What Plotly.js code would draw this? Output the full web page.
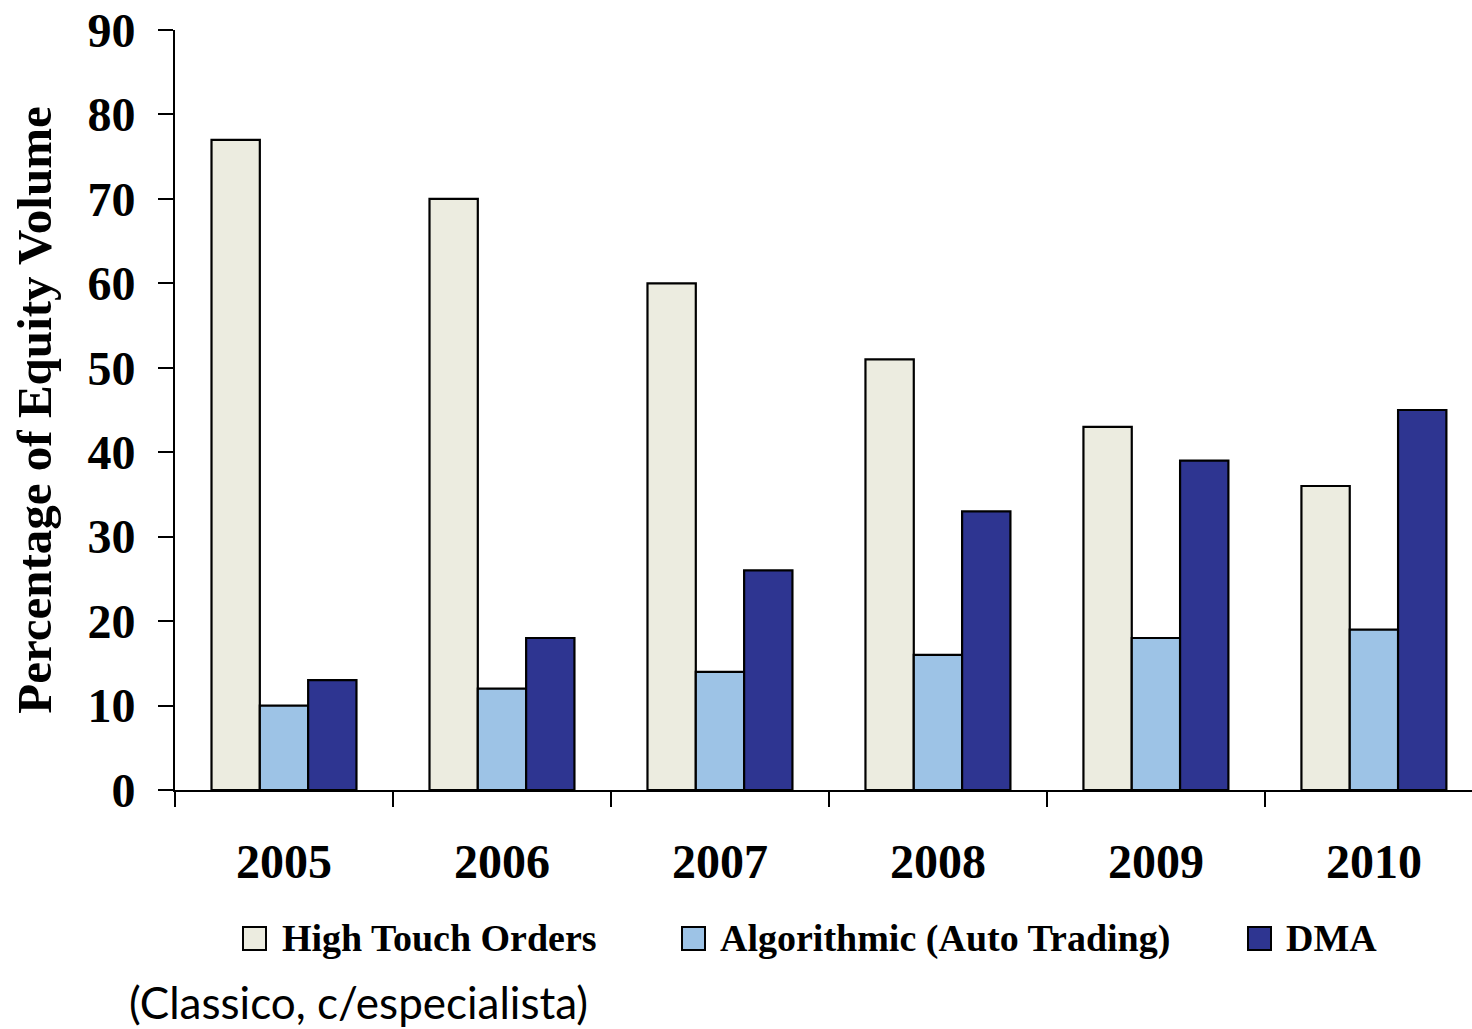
<!DOCTYPE html>
<html>
<head>
<meta charset="utf-8">
<script src="https://cdn.plot.ly/plotly-3.0.1.min.js"></script>
<style>html,body{margin:0;padding:0;background:#fff;}#chart{width:1472px;height:1029px;}</style>
</head>
<body>
<div id="chart"></div>
<script>
// ---- data ----
const years = ["2005", "2006", "2007", "2008", "2009", "2010"];
const seriesNames = ["High Touch Orders", "Algorithmic (Auto Trading)", "DMA"];
const highTouch = [77, 70, 60, 51, 43, 36];
const algorithmic = [10, 12, 14, 16, 18, 19];
const dma = [13, 18, 26, 33, 39, 45];
const yTicks = [0, 10, 20, 30, 40, 50, 60, 70, 80, 90];
const yTitle = "Percentage of Equity Volume";
const caption = "(Classico, c/especialista)";

// ---- style ----
const colors = ["#ECECE0", "#9DC3E6", "#2E3591"];
const serif = "'Liberation Serif', 'Times New Roman', serif";
const W = 1472, H = 1029;
const M = {l: 175, r: 0, t: 30, b: 239};
const pw = W - M.l - M.r, ph = H - M.t - M.b;
const px = x => (x - M.l) / pw;
const py = y => (H - M.b - y) / ph;

const values = [highTouch, algorithmic, dma];
const traces = values.map((v, i) => ({
  type: "bar",
  name: seriesNames[i],
  x: years,
  y: v,
  marker: {color: colors[i], line: {color: "#000", width: 2.2}},
  showlegend: false,
  hoverinfo: "x+y+name"
}));

// manual legend (matching reference positions)
const legendSq = [243, 682, 1248];
const legendTx = [280, 718, 1284];
const shapes = [], annotations = [];
seriesNames.forEach((n, i) => {
  shapes.push({type: "rect", xref: "paper", yref: "paper",
    x0: px(legendSq[i]), x1: px(legendSq[i] + 23),
    y0: py(950), y1: py(927),
    fillcolor: colors[i], line: {color: "#000", width: 2}});
  annotations.push({xref: "paper", yref: "paper", x: px(legendTx[i]), y: py(938),
    xanchor: "left", yanchor: "middle", showarrow: false, text: n,
    font: {family: serif, size: 38, color: "#000", weight: "bold"}});
});
annotations.push({xref: "paper", yref: "paper", x: px(128), y: py(1002),
  xanchor: "left", yanchor: "middle", showarrow: false, text: caption,
  borderpad: 0,
  font: {family: "Lato, 'Open Sans', sans-serif", size: 44, color: "#000"}});

const layout = {
  width: W, height: H,
  margin: M,
  paper_bgcolor: "#fff", plot_bgcolor: "#fff",
  barmode: "group",
  bargap: 0.335,
  bargroupgap: 0,
  showlegend: false,
  font: {family: serif, color: "#000"},
  xaxis: {
    type: "category",
    range: [-0.5, 5.45],
    showline: true, linecolor: "#000", linewidth: 2,
    ticks: "outside", tickson: "boundaries", ticklen: 15, tickwidth: 2, tickcolor: "#000",
    tickfont: {family: serif, size: 48, color: "#000", weight: "bold"},
    ticklabelstandoff: 28,
    showgrid: false, zeroline: false, fixedrange: true
  },
  yaxis: {
    range: [0, 90],
    tickvals: yTicks,
    ticktext: yTicks.map(String),
    showline: true, linecolor: "#000", linewidth: 2,
    ticks: "outside", ticklen: 15, tickwidth: 2, tickcolor: "#000",
    tickfont: {family: serif, size: 48, color: "#000", weight: "bold"},
    ticklabelstandoff: 13,
    showgrid: false, zeroline: false, fixedrange: true,
    title: {text: yTitle, font: {family: serif, size: 49, color: "#000", weight: "bold"}, standoff: 20}
  },
  shapes: shapes,
  annotations: annotations
};

Plotly.newPlot("chart", traces, layout, {displayModeBar: false, staticPlot: true});
</script>
</body>
</html>
